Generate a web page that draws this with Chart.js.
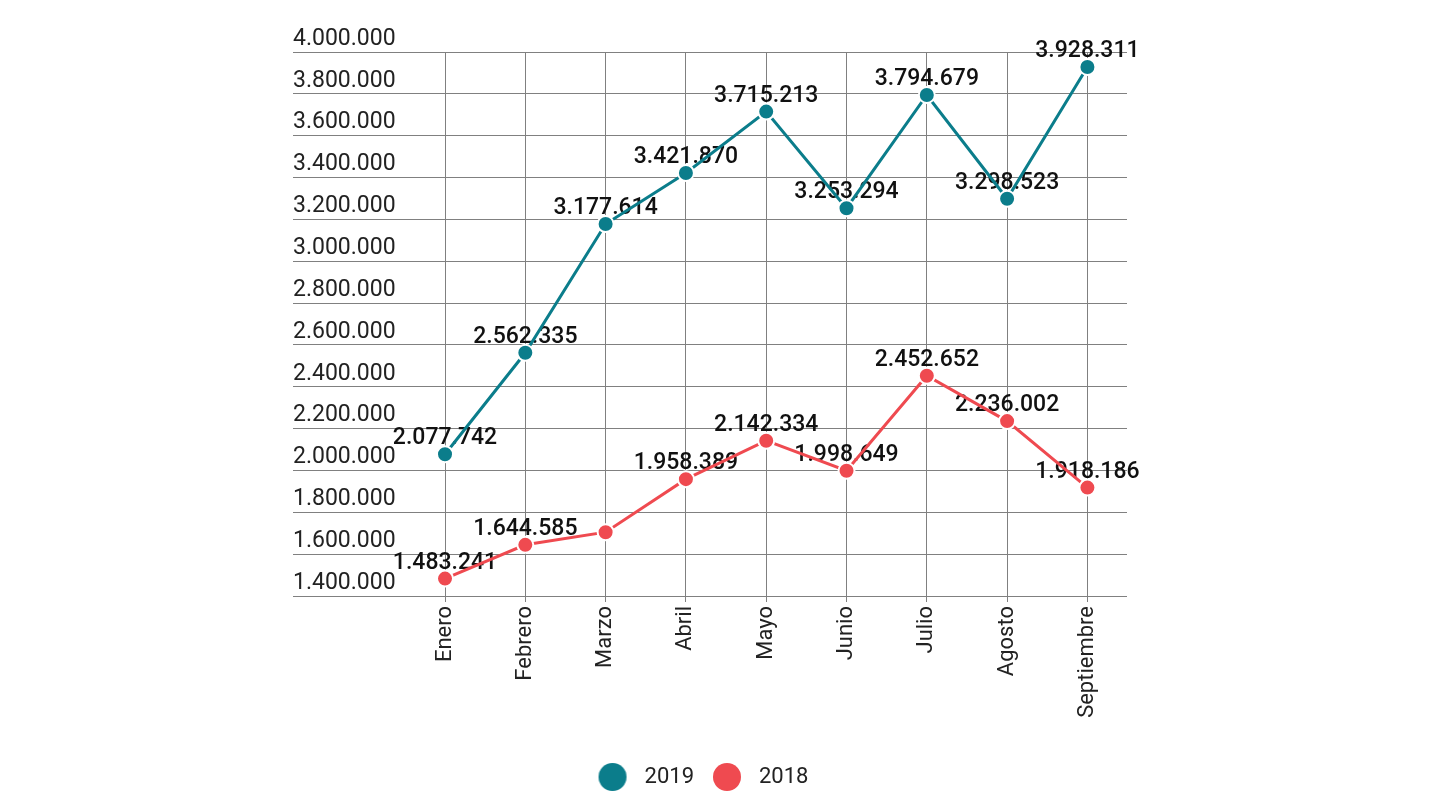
<!DOCTYPE html>
<html lang="es">
<head>
<meta charset="UTF-8">
<title>2019 vs 2018</title>
<style>
  html, body { margin: 0; padding: 0; background: #fff; }
  #wrap { width: 1438px; height: 808px; }
</style>
</head>
<body>
<div id="wrap"><canvas id="chart"></canvas></div>
<script src="https://cdn.jsdelivr.net/npm/chart.js"></script>
<script>
const months = ['Enero', 'Febrero', 'Marzo', 'Abril', 'Mayo', 'Junio', 'Julio', 'Agosto', 'Septiembre'];
const values2019 = [2077742, 2562335, 3177614, 3421870, 3715213, 3253294, 3794679, 3298523, 3928311];
const values2018 = [1483241, 1644585, 1705000, 1958389, 2142334, 1998649, 2452652, 2236002, 1918186];
// the reference shows no value label on Marzo 2018
const hiddenLabels2018 = [2];
const yMin = 1400000, yMax = 4000000, yStep = 200000;

const teal = '#0b7d8b';
const red = '#ef4a50';

function fmt(n) {
    return String(Math.round(n)).replace(/\B(?=(\d{3})+(?!\d))/g, '.');
}

// legend dot: circle drawn left of the image centre so the text gap matches
function dot(color) {
    const c = document.createElement('canvas');
    c.width = 52; c.height = 28;
    const g = c.getContext('2d');
    g.fillStyle = color;
    g.beginPath();
    g.arc(16, 14, 14, 0, Math.PI * 2);
    g.fill();
    return c;
}

// value labels go under the lines, like in the reference
const valueLabels = {
    id: 'valueLabels',
    beforeDatasetsDraw(chart) {
        const ctx = chart.ctx;
        ctx.save();
        ctx.font = '500 23px Roboto';
        ctx.fillStyle = '#111';
        ctx.textAlign = 'center';
        ctx.textBaseline = 'alphabetic';
        chart.data.datasets.forEach((ds, di) => {
            const meta = chart.getDatasetMeta(di);
            meta.data.forEach((pt, i) => {
                if (ds.hideLabels && ds.hideLabels.includes(i)) return;
                ctx.fillText(fmt(ds.data[i].y), pt.x, pt.y - 10);
            });
        });
        ctx.restore();
    }
};

const ctx = document.getElementById('chart').getContext('2d');
const chart = new Chart(ctx, {
    type: 'line',
    data: {
        datasets: [
            {
                label: '2019',
                data: values2019.map((v, i) => ({ x: i, y: v })),
                borderColor: teal,
                backgroundColor: teal,
                pointBackgroundColor: teal,
                pointBorderColor: '#fff',
                pointBorderWidth: 2,
                pointRadius: 8,
                borderWidth: 3,
                tension: 0,
                dotImage: dot(teal)
            },
            {
                label: '2018',
                data: values2018.map((v, i) => ({ x: i, y: v })),
                hideLabels: hiddenLabels2018,
                borderColor: red,
                backgroundColor: red,
                pointBackgroundColor: red,
                pointBorderColor: '#fff',
                pointBorderWidth: 2,
                pointRadius: 8,
                borderWidth: 3,
                tension: 0,
                dotImage: dot(red)
            }
        ]
    },
    options: {
        responsive: true,
        maintainAspectRatio: false,
        animation: false,
        layout: { padding: { left: 293, right: 311, top: 52, bottom: 10 } },
        scales: {
            x: {
                type: 'linear',
                min: -1.893,
                max: 8.493,
                afterBuildTicks(scale) {
                    scale.ticks = months.map((m, i) => ({ value: i }));
                },
                afterFit(scale) {
                    scale.height = 138;
                },
                ticks: {
                    minRotation: 90,
                    maxRotation: 90,
                    padding: 4,
                    color: '#222',
                    font: { family: 'Roboto', size: 22 },
                    callback: v => months[v] || ''
                },
                grid: { color: '#808080', lineWidth: 1, drawTicks: true, tickLength: 6 },
                border: { display: false }
            },
            y: {
                min: yMin,
                max: yMax,
                ticks: {
                    stepSize: yStep,
                    mirror: true,
                    padding: 0,
                    labelOffset: -13,
                    color: '#222',
                    font: { family: 'Roboto', size: 23 },
                    callback: v => fmt(v)
                },
                grid: { color: '#808080', lineWidth: 1, drawTicks: false },
                border: { display: false }
            }
        },
        plugins: {
            tooltip: { enabled: false },
            legend: {
                position: 'bottom',
                labels: {
                    usePointStyle: true,
                    boxWidth: 22,
                    boxHeight: 22,
                    padding: 32,
                    color: '#222',
                    font: { family: 'Roboto', size: 22 },
                    generateLabels(ch) {
                        return ch.data.datasets.map((ds, i) => ({
                            text: ds.label,
                            fillStyle: ds.backgroundColor,
                            strokeStyle: ds.backgroundColor,
                            lineWidth: 0,
                            pointStyle: ds.dotImage,
                            hidden: !ch.isDatasetVisible(i),
                            datasetIndex: i,
                            fontColor: '#222'
                        }));
                    }
                }
            }
        }
    },
    plugins: [valueLabels]
});
</script>
</body>
</html>
